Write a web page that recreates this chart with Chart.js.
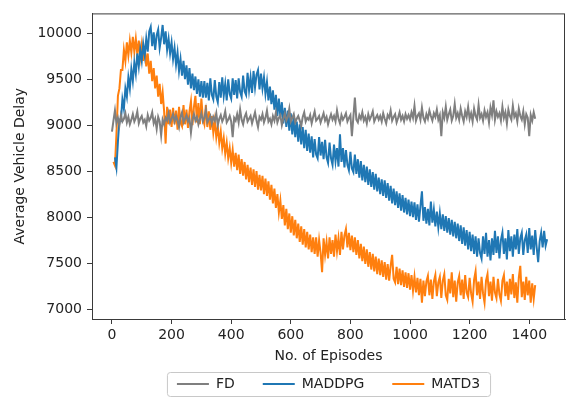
<!DOCTYPE html>
<html>
<head>
<meta charset="utf-8">
<script src="https://cdn.jsdelivr.net/npm/chart.js@4/dist/chart.umd.min.js"></script>
<style>
	html, body { margin: 0; padding: 0; background: #fff; }
	#wrap { width: 566px; height: 401px; }
</style>
</head>
<body>
<div id="wrap"><canvas id="chartDelay"></canvas></div>
<script>
// episodes are sampled every 5 steps, each series has its own start
const step = 5
const fdStart = 0
const maddpgStart = 10
const matd3Start = 5

const fdValues = [
	8930, 9050, 9160, 9020, 9080, 9000, 9110, 9040, 9070, 9130, 9030, 9090, 9010, 9060, 9120, 9040, 9080, 9150, 9020, 9070,
	9100, 9030, 9060, 8990, 9110, 9050, 9080, 9140, 9020, 9070, 8960, 9090, 9040, 8890, 9060, 9010, 9080, 9050, 9130, 9030,
	9070, 9120, 9040, 9100, 9050, 8980, 9090, 9140, 9030, 9070, 9110, 9040, 9080, 8920, 9060, 9120, 9050, 9090, 9010, 9070,
	9130, 9040, 9080, 9170, 9030, 9060, 9100, 9020, 9090, 9050, 9130, 9000, 9070, 9110, 9040, 9080, 9150, 9030, 9060, 9100,
	9040, 8870, 9080, 9050, 9120, 9030, 9170, 9060, 9010, 9090, 9130, 9040, 9070, 9100, 9020, 9080, 9140, 9050, 8980, 9090,
	9060, 9120, 9030, 9080, 9160, 9040, 9070, 9010, 9100, 9050, 9140, 9030, 9080, 9110, 9000, 9070, 9130, 9050, 9090, 9180,
	9040, 9080, 9120, 9030, 9070, 9100, 9050, 8990, 9090, 9140, 9040, 9080, 9060, 9110, 9020, 9090, 9150, 9050, 9070, 9100,
	9030, 9080, 9130, 9050, 9090, 9010, 9070, 9120, 9060, 9100, 9040, 9160, 9070, 9020, 9110, 9060, 9090, 9130, 9040, 9080,
	9110, 8880, 9090, 9300, 9060, 9030, 9110, 9070, 9140, 9050, 9090, 9020, 9120, 9060, 9100, 9150, 9040, 9080, 9110, 9060,
	9100, 9040, 9130, 9070, 9020, 9110, 9080, 9160, 9050, 9090, 9120, 9030, 9080, 9140, 9060, 9100, 9040, 9120, 9070, 9110,
	9060, 9140, 9080, 9210, 9050, 9100, 9130, 9060, 9190, 9080, 9040, 9120, 9070, 9160, 9100, 9050, 9130, 9090, 9170, 9060,
	9110, 8880, 9140, 9080, 9200, 9060, 9120, 9170, 9050, 9100, 9230, 9080, 9130, 9060, 9180, 9100, 9040, 9150, 9090, 9200,
	9070, 9130, 9040, 9180, 9100, 9060, 9220, 9080, 9120, 9050, 9160, 9090, 9140, 9030, 9190, 9110, 9270, 9060, 9150, 9090,
	9130, 9050, 9200, 9080, 9140, 9020, 9170, 9100, 9060, 9210, 9090, 9130, 9040, 9180, 9100, 9060, 9150, 9010, 9120, 9080,
	8880, 9110, 9050, 9140, 9070,
]

const maddpgValues = [
	8650, 8540, 8820, 9060, 9050, 9280, 9180, 9400, 9310, 9520, 9400, 9610, 9480, 9680, 9560, 9780, 9640, 9820, 9700, 9880,
	9760, 9940, 9800, 10020, 10070, 9860, 10010, 9820, 9980, 10040, 9840, 9950, 10090, 9880, 10020, 9820, 9940, 9780, 9900, 9720,
	9840, 9660, 9790, 9590, 9720, 9540, 9700, 9500, 9650, 9440, 9620, 9400, 9560, 9380, 9530, 9340, 9500, 9310, 9480, 9300,
	9480, 9300, 9460, 9270, 9510, 9330, 9280, 9490, 9310, 9250, 9470, 9300, 9520, 9320, 9450, 9270, 9500, 9340, 9290, 9510,
	9330, 9490, 9290, 9510, 9360, 9310, 9540, 9370, 9330, 9570, 9380, 9520, 9350, 9590, 9410, 9550, 9600, 9390, 9560, 9400,
	9520, 9340, 9470, 9270, 9420, 9230, 9380, 9170, 9330, 9100, 9290, 9090, 9250, 9020, 9190, 8980, 9160, 8940, 9130, 8900,
	9080, 8870, 9040, 8820, 9010, 8790, 8980, 8750, 8950, 8720, 8910, 8700, 8880, 8650, 8850, 8680, 8640, 8870, 8670, 8820,
	8630, 8840, 8650, 8590, 8810, 8640, 8570, 8790, 8610, 8750, 8550, 8900, 8600, 8750, 8540, 8730, 8570, 8510, 8710, 8530,
	8490, 8680, 8470, 8630, 8430, 8610, 8400, 8570, 8380, 8550, 8350, 8520, 8330, 8490, 8300, 8470, 8280, 8430, 8250, 8410,
	8230, 8400, 8210, 8370, 8180, 8340, 8150, 8310, 8130, 8280, 8100, 8260, 8070, 8240, 8050, 8210, 8030, 8190, 8010, 8170,
	8000, 8160, 7970, 8140, 7950, 8120, 8280, 7960, 8110, 7930, 8090, 7910, 8170, 7940, 8080, 7900, 8060, 7890, 8040, 7870,
	8030, 7850, 8010, 7830, 7990, 7810, 7970, 7790, 7950, 7770, 7930, 7740, 7910, 7710, 7890, 7690, 7860, 7650, 7840, 7630,
	7810, 7600, 7790, 7570, 7770, 7610, 7550, 7790, 7600, 7830, 7570, 7750, 7530, 7770, 7590, 7850, 7610, 7790, 7550, 7750,
	7830, 7600, 7770, 7540, 7860, 7630, 7790, 7570, 7810, 7650, 7870, 7600, 7770, 7830, 7590, 7750, 7810, 7610, 7880, 7650,
	7800, 7590, 7860, 7670, 7510, 7740, 7830, 7670, 7850, 7690, 7760,
]

const matd3Values = [
	8600, 8560, 8900, 9320, 9400, 9600, 9600, 9820, 9700, 9900, 9760, 9920, 9790, 9960, 9800, 9940, 9770, 9920, 9740, 9880,
	9700, 9850, 9640, 9780, 9560, 9700, 9480, 9620, 9400, 9540, 9310, 9450, 9230, 9360, 9150, 8800, 9200, 9010, 9170, 8980,
	9190, 9010, 9160, 8950, 9200, 9030, 8990, 9220, 9010, 9170, 8970, 9150, 9260, 9000, 9200, 9320, 9030, 9240, 9010, 9290,
	9070, 9010, 9220, 8980, 9150, 8950, 9100, 8920, 9050, 8870, 8990, 8810, 8930, 8750, 8860, 8690, 8810, 8640, 8750, 8590,
	8730, 8550, 8700, 8510, 8680, 8470, 8630, 8450, 8600, 8410, 8570, 8380, 8540, 8350, 8520, 8330, 8500, 8300, 8460, 8290,
	8450, 8250, 8420, 8230, 8390, 8190, 8350, 8150, 8310, 8100, 8250, 8050, 8180, 7980, 8130, 7910, 8090, 7870, 8040, 7830,
	8010, 7800, 7970, 7770, 7930, 7730, 7900, 7700, 7870, 7670, 7840, 7650, 7810, 7620, 7780, 7600, 7780, 7570, 7750, 7610,
	7400, 7770, 7590, 7730, 7550, 7780, 7600, 7750, 7570, 7810, 7630, 7770, 7590, 7840, 7650, 7800, 7870, 7670, 7830, 7640,
	7800, 7620, 7780, 7590, 7750, 7550, 7710, 7520, 7680, 7490, 7650, 7460, 7620, 7430, 7600, 7410, 7570, 7380, 7550, 7370,
	7530, 7350, 7510, 7320, 7490, 7310, 7470, 7590, 7330, 7290, 7460, 7270, 7440, 7260, 7420, 7240, 7400, 7230, 7390, 7210,
	7370, 7200, 7350, 7180, 7340, 7150, 7330, 7070, 7310, 7140, 7300, 7360, 7150, 7320, 7110, 7300, 7370, 7140, 7290, 7350,
	7120, 7310, 7380, 7150, 7100, 7330, 7170, 7400, 7130, 7310, 7080, 7290, 7360, 7150, 7320, 7110, 7370, 7180, 7130, 7340,
	7170, 7080, 7320, 7410, 7150, 7300, 7110, 7350, 7170, 7070, 7310, 7380, 7140, 7300, 7090, 7350, 7180, 7120, 7330, 7160,
	7090, 7310, 7370, 7140, 7300, 7100, 7330, 7160, 7380, 7120, 7290, 7070, 7340, 7470, 7130, 7300, 7100, 7350, 7150, 7310,
	7070, 7280, 7110, 7260,
]

const xTicks = [0, 200, 400, 600, 800, 1000, 1200, 1400]
const yTicks = [7000, 7500, 8000, 8500, 9000, 9500, 10000]

const toPoints = (start, values) => values.map((v, i) => ({ x: start + i * step, y: v }))

const axisColor = '#3a3a3a'
const textFont = { family: 'DejaVu Sans', size: 14 }

// matplotlib style box around the plot and frame around the legend
const framePlugin = {
	id: 'frame',
	afterDraw(chart) {
		const { ctx, chartArea: a, legend } = chart
		ctx.save()
		ctx.strokeStyle = axisColor
		ctx.lineWidth = 1
		ctx.strokeRect(a.left + 0.5, a.top + 0.5, a.right - a.left - 1, a.bottom - a.top)
		if (legend && legend.legendHitBoxes && legend.legendHitBoxes.length) {
			const hb = legend.legendHitBoxes
			const last = hb[hb.length - 1]
			const l = hb[0].left - 10
			const r = last.left + last.width + 10
			const t = hb[0].top - 5
			const h = hb[0].height + 10
			ctx.strokeStyle = '#c8c8c8'
			ctx.beginPath()
			ctx.roundRect(l + 0.5, t + 0.5, r - l, h, 3)
			ctx.stroke()
		}
		ctx.restore()
	},
}

const ctxDelay = document.getElementById('chartDelay').getContext('2d')
const chartDelay = new Chart(ctxDelay, {
	type: 'line',
	data: {
		datasets: [
			{
				label: 'FD',
				data: toPoints(fdStart, fdValues),
				borderColor: '#7f7f7f',
				backgroundColor: '#7f7f7f',
				borderWidth: 2,
				pointRadius: 0,
				tension: 0,
			},
			{
				label: 'MADDPG',
				data: toPoints(maddpgStart, maddpgValues),
				borderColor: '#1f77b4',
				backgroundColor: '#1f77b4',
				borderWidth: 2,
				pointRadius: 0,
				tension: 0,
			},
			{
				label: 'MATD3',
				data: toPoints(matd3Start, matd3Values),
				borderColor: '#ff7f0e',
				backgroundColor: '#ff7f0e',
				borderWidth: 2,
				pointRadius: 0,
				tension: 0,
			},
		],
	},
	options: {
		responsive: true,
		maintainAspectRatio: false,
		animation: false,
		layout: { padding: { left: 0, right: 1, top: 12, bottom: 0 } },
		scales: {
			x: {
				type: 'linear',
				min: -67,
				max: 1520,
				afterBuildTicks: (scale) => { scale.ticks = xTicks.map((v) => ({ value: v })) },
				afterFit: (scale) => { scale.height = 30 },
				grid: { drawOnChartArea: false, color: axisColor, tickLength: 5 },
				border: { color: axisColor },
				ticks: { font: textFont, color: '#222', padding: 3, maxRotation: 0, callback: (v) => String(v) },
				title: { display: true, text: 'No. of Episodes', font: textFont, color: '#222', padding: { top: 0, bottom: -16 } },
			},
			y: {
				min: 6892,
				max: 10216,
				afterBuildTicks: (scale) => { scale.ticks = yTicks.map((v) => ({ value: v })) },
				afterFit: (scale) => { scale.width = 92 },
				grid: { drawOnChartArea: false, color: axisColor, tickLength: 5 },
				border: { color: axisColor },
				ticks: { font: textFont, color: '#222', padding: 5, callback: (v) => String(v) },
				title: { display: true, text: 'Average Vehicle Delay', font: textFont, color: '#222', padding: { top: 12, bottom: 0 } },
			},
		},
		plugins: {
			legend: {
				display: true,
				position: 'bottom',
				fullSize: false,
				labels: {
					usePointStyle: true,
					pointStyle: 'line',
					pointStyleWidth: 32,
					font: textFont,
					color: '#222',
					padding: 28,
				},
			},
			tooltip: { enabled: false },
		},
	},
	plugins: [framePlugin],
})
</script>
</body>
</html>
